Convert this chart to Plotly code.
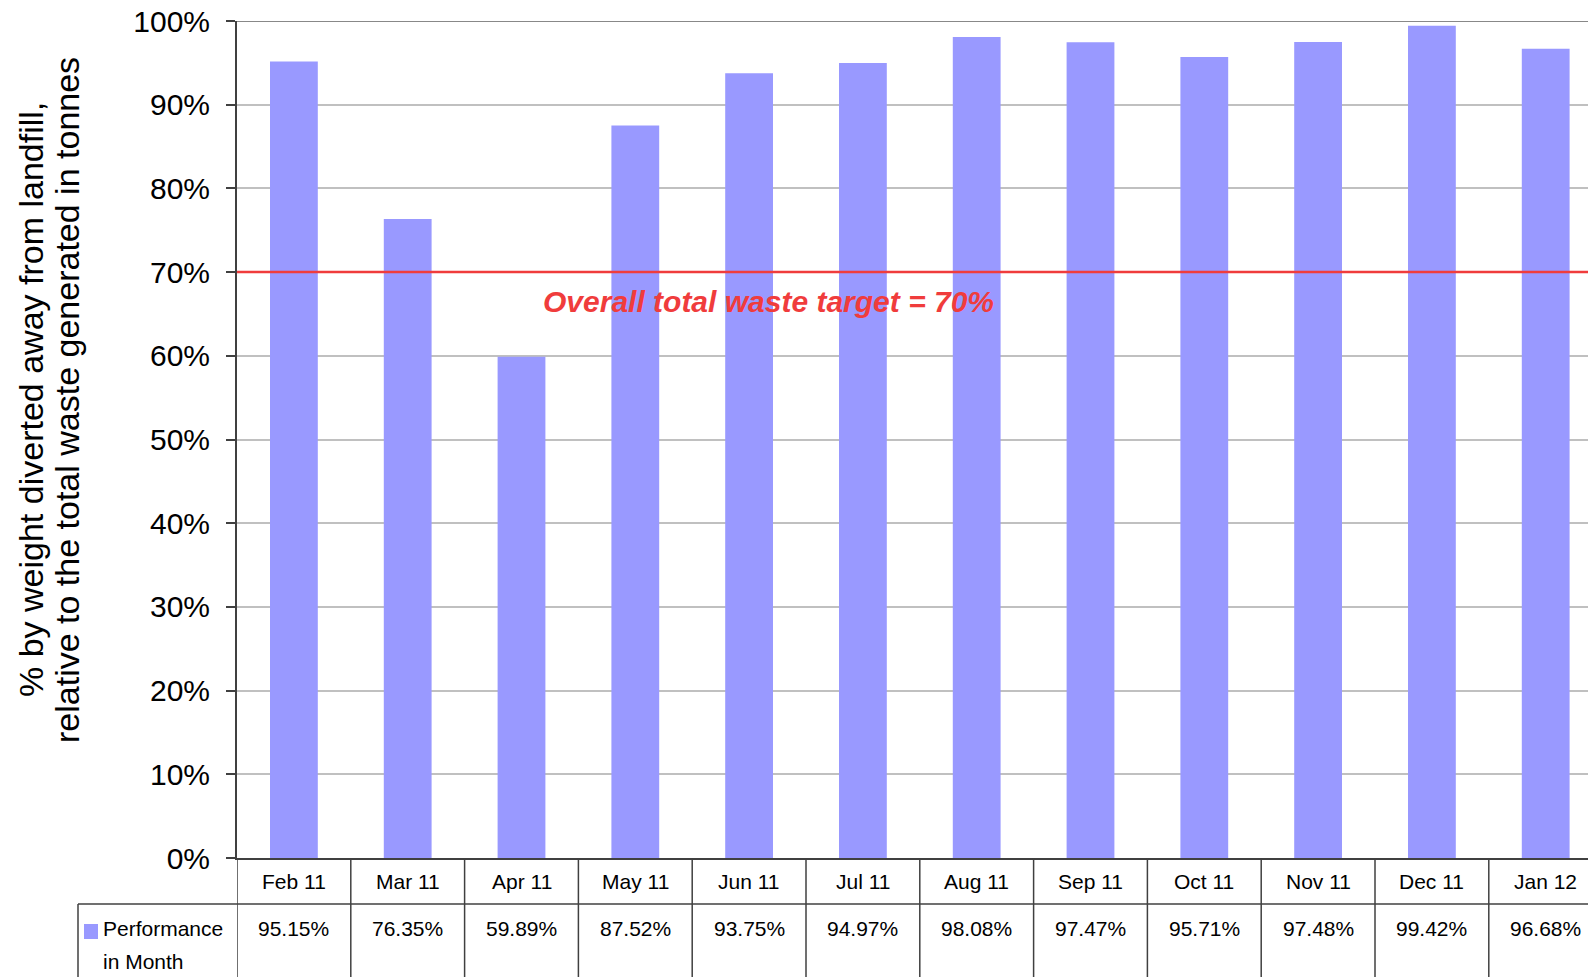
import plotly.graph_objects as go

months = ["Feb 11", "Mar 11", "Apr 11", "May 11", "Jun 11", "Jul 11",
          "Aug 11", "Sep 11", "Oct 11", "Nov 11", "Dec 11", "Jan 12"]
performance = [95.15, 76.35, 59.89, 87.52, 93.75, 94.97,
               98.08, 97.47, 95.71, 97.48, 99.42, 96.68]
series_line_1 = "Performance"
series_line_2 = "in Month"
target_value = 70
target_label = "Overall total waste target = 70%"
y_title_1 = "% by weight diverted away from landfill,"
y_title_2 = "relative to the total waste generated in tonnes"

W, H = 1588, 977
L, R, T, B = 237, 0, 21, 119
plot_h = H - T - B
plot_w = W - L - R

def py(p):  # page pixel y -> paper y
    return (H - B - p) / plot_h

def px(p):  # page pixel x -> paper x
    return (p - L) / plot_w

BAR = "#9999FF"
RED = "#F03C3C"
LINE = "#404040"
SANS = "Liberation Sans, Arial"

x_idx = list(range(len(months)))

fig = go.Figure()
fig.add_trace(go.Bar(x=x_idx, y=performance, width=0.42,
                     marker=dict(color=BAR, line=dict(width=0)),
                     name="Performance in Month", showlegend=False))

shapes = []
shapes.append(dict(type="line", xref="paper", yref="y", x0=0, x1=1,
                   y0=target_value, y1=target_value,
                   line=dict(color=RED, width=2.5), layer="above"))
shapes.append(dict(type="line", xref="paper", yref="y", x0=0, x1=1,
                   y0=100, y1=100, line=dict(color="#888888", width=2), layer="below"))

n = len(months)
bottom = py(985)
for k in range(n + 1):
    xb = k - 0.5
    shapes.append(dict(type="line", xref="x", yref="paper", x0=xb, x1=xb,
                       y0=0, y1=bottom, line=dict(color=LINE, width=1.5)))
shapes.append(dict(type="line", xref="paper", yref="paper", x0=px(78), x1=1.02,
                   y0=py(904), y1=py(904), line=dict(color=LINE, width=1.5)))
shapes.append(dict(type="line", xref="paper", yref="paper", x0=px(78), x1=px(78),
                   y0=py(904), y1=bottom, line=dict(color=LINE, width=1.5)))
shapes.append(dict(type="rect", xref="paper", yref="paper", x0=px(84), x1=px(98),
                   y0=py(939), y1=py(924), fillcolor=BAR, line=dict(width=0)))

tfont = dict(family=SANS, size=21, color="black")
annotations = []
for i, (m, v) in enumerate(zip(months, performance)):
    annotations.append(dict(x=i, y=py(881), xref="x", yref="paper", text=m,
                            showarrow=False, font=tfont,
                            xanchor="center", yanchor="middle"))
    annotations.append(dict(x=i, y=py(928), xref="x", yref="paper", text=f"{v:.2f}%",
                            showarrow=False, font=tfont,
                            xanchor="center", yanchor="middle"))
annotations.append(dict(x=px(101), y=py(928), xref="paper", yref="paper", text=series_line_1,
                        showarrow=False, font=tfont, xanchor="left", yanchor="middle"))
annotations.append(dict(x=px(101), y=py(962), xref="paper", yref="paper", text=series_line_2,
                        showarrow=False, font=tfont, xanchor="left", yanchor="middle"))
annotations.append(dict(x=px(768), y=py(301), xref="paper", yref="paper",
                        text=f"<b><i>{target_label}</i></b>",
                        showarrow=False, font=dict(family=SANS, size=30, color=RED),
                        xanchor="center", yanchor="middle"))
annotations.append(dict(x=px(31), y=py(400), xref="paper", yref="paper", text=y_title_1,
                        textangle=-90, showarrow=False,
                        font=dict(family=SANS, size=34, color="black"),
                        xanchor="center", yanchor="middle"))
annotations.append(dict(x=px(67), y=py(400), xref="paper", yref="paper", text=y_title_2,
                        textangle=-90, showarrow=False,
                        font=dict(family=SANS, size=34, color="black"),
                        xanchor="center", yanchor="middle"))

fig.update_layout(
    width=W, height=H,
    margin=dict(l=L, r=R, t=T, b=B, pad=0),
    paper_bgcolor="white", plot_bgcolor="white",
    showlegend=False,
    hovermode=False,
    xaxis=dict(range=[-0.5, -0.5 + plot_w / 113.8], showticklabels=False,
               showgrid=False, zeroline=False, showline=True,
               linecolor=LINE, linewidth=2, ticks=""),
    yaxis=dict(range=[0, 100], dtick=10, tick0=0, ticksuffix="%",
               showgrid=True, gridcolor="#C0C0C0", gridwidth=2,
               zeroline=False, showline=True, linecolor=LINE, linewidth=2,
               ticks="outside", ticklen=9, tickcolor=LINE, tickwidth=1.5,
               ticklabelstandoff=10, ticklabeloverflow="allow",
               tickfont=dict(family=SANS, size=30, color="black")),
    shapes=shapes,
    annotations=annotations,
)

fig.write_html("out.html", config={"displayModeBar": False},
               post_script="document.body.style.margin='0';document.body.style.overflow='hidden';")
